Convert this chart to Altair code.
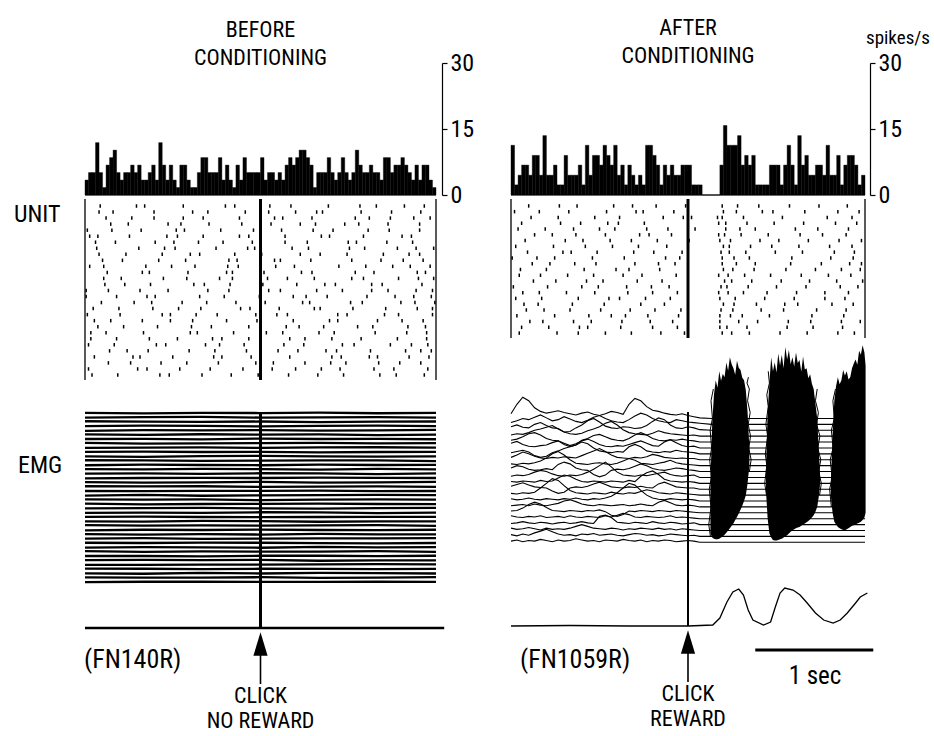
import altair as alt
import pandas as pd

FONT_T = "Roboto Condensed, Liberation Sans Narrow, Liberation Sans, Arial, sans-serif"

# ---------------- data ----------------
bin_width = 0.03  # s
bin_starts = [round(-1.5 + bin_width * i, 3) for i in range(100)]

# spikes/s, before conditioning
hist_before = [3.4, 5.1, 5.1, 11.9, 5.1, 1.7, 6.8, 8.5, 10.2, 5.1,
               3.4, 5.1, 5.1, 6.8, 5.1, 6.8, 3.4, 3.4, 5.1, 6.8,
               3.4, 11.9, 6.8, 3.4, 6.8, 3.4, 1.7, 6.8, 6.8, 3.4,
               1.7, 1.7, 5.1, 8.5, 8.5, 5.1, 5.1, 5.1, 8.5, 3.4,
               6.8, 3.4, 1.7, 6.8, 3.4, 8.5, 5.1, 5.1, 5.1, 5.1,
               8.5, 3.4, 5.1, 5.1, 3.4, 5.1, 3.4, 6.8, 8.5, 6.8,
               8.5, 10.2, 10.2, 8.5, 6.8, 1.7, 5.1, 5.1, 5.1, 8.5,
               5.1, 3.4, 5.1, 8.5, 5.1, 3.4, 5.1, 10.2, 6.8, 5.1,
               5.1, 6.8, 5.1, 5.1, 3.4, 8.5, 8.5, 5.1, 6.8, 6.8,
               8.5, 6.8, 5.1, 3.4, 6.8, 3.4, 6.8, 6.8, 3.4, 1.7]

# spikes/s, after conditioning
hist_after = [11.3, 2.3, 4.5, 6.8, 6.8, 4.5, 9.0, 9.0, 4.5, 13.5,
              4.5, 4.5, 6.8, 2.3, 2.3, 9.0, 4.5, 4.5, 4.5, 6.8,
              2.3, 11.3, 4.5, 9.0, 9.0, 6.8, 11.3, 9.0, 6.8, 11.3,
              4.5, 6.8, 2.3, 6.8, 4.5, 2.3, 4.5, 2.3, 11.3, 11.3,
              9.0, 6.8, 2.3, 6.8, 4.5, 6.8, 4.5, 4.5, 6.8, 6.8,
              6.8, 2.3, 2.3, 2.3, 0, 0, 0, 0, 0, 6.8,
              15.8, 11.3, 11.3, 11.3, 13.5, 6.8, 9.0, 6.8, 9.0, 2.3,
              2.3, 2.3, 2.3, 6.8, 6.8, 6.8, 2.3, 6.8, 11.3, 6.8,
              2.3, 13.5, 6.8, 9.0, 4.5, 4.5, 6.8, 6.8, 4.5, 11.3,
              4.5, 4.5, 9.0, 2.3, 6.8, 9.0, 9.0, 6.8, 2.3, 4.5]

hist_ticks = [0, 15, 30]

# spike times (centiseconds from click), one string per trial (top to bottom)
raster_before = [
    "-137 -106 -99 -66 -30 -22 8 26 58 85 99 123 140",
    "-138 -126 -91 -58 -45 -13 7 30 48 53 86 112 137",
    "-132 -110 -91 -66 -49 -18 12 19 44 81 93 111 131 145",
    "-128 -113 -79 -68 -44 -16 9 34 47 72 84 109 136",
    "-148 -127 -102 -72 -65 -34 -6 18 45 62 92 110 136",
    "-146 -139 -112 -80 -71 -49 -18 -10 21 52 59 88 121 129",
    "-141 -124 -90 -74 -53 -32 -7 21 40 75 82 108 130",
    "-140 -104 -82 -73 -38 -11 -5 27 41 76 89 117 133 148",
    "-138 -115 -84 -60 -52 -22 1 34 51 74 105 127 136",
    "-135 -118 -87 -64 -27 -20 12 17 43 78 103 122 139",
    "-146 -134 -98 -76 -56 -28 -19 13 29 67 90 113 128 145",
    "-131 -101 -95 -62 -29 -24 3 35 44 81 97 134 141",
    "-134 -119 -83 -63 -35 -24 6 23 46 78 88 118 135 148",
    "-133 -116 -94 -57 -48 -26 2 31 55 64 95 104 138",
    "-149 -130 -103 -79 -45 -27 7 17 48 70 95 109 133 147",
    "-149 -123 -97 -90 -52 -31 -1 28 39 57 91 115 131 146",
    "-136 -108 -93 -67 -46 -21 4 36 42 77 87 120 132 149",
    "-143 -121 -92 -70 -51 -17 -9 16 46 51 79 107 134 147",
    "-148 -120 -84 -77 -55 -37 -4 14 23 66 74 106 118 147",
    "-142 -128 -101 -77 -58 -29 -3 28 59 66 100 121 139",
    "-139 -117 -88 -59 -42 -10 22 33 54 83 96 126 141",
    "-145 -132 -100 -60 -54 -23 5 19 50 63 98 125 142",
    "-145 -123 -95 -71 -41 -33 -10 25 38 61 86 117 142",
    "-147 -125 -89 -81 -47 -35 -14 20 37 70 80 111 129 143",
    "-129 -114 -96 -61 -39 -12 15 32 56 65 94 124 137 146",
    "-142 -109 -103 -75 -40 -33 -8 25 61 69 93 100 127 144",
    "-130 -111 -85 -63 -36 -4 11 38 60 73 101 119 137",
    "-147 -105 -97 -69 -43 -15 10 30 52 68 97 114 143",
    "-144 -122 -86 -78 -50 -25 -2 24 49 71 102 116 140",
]

raster_after = [
    "-135 -109 -94 -63 -47 -27 -2 29 42 60 86 111 135",
    "-147 -126 -101 -69 -44 -38 -12 30 41 63 72 99 127 145",
    "-133 -110 -79 -58 -21 -4 3 25 29 47 80 118 139",
    "-141 -108 -91 -68 -59 -37 26 32 50 73 98 125 143",
    "-144 -121 -97 -75 -62 -35 -17 6 32 44 57 91 110 136",
    "-130 -115 -95 -70 -41 -33 -14 26 31 45 68 95 114 134",
    "-138 -104 -89 -66 -48 -26 1 27 36 61 77 102 128 147",
    "-146 -114 -87 -64 -42 -18 30 35 53 71 94 120 139",
    "-136 -106 -99 -77 -46 -29 -5 28 35 49 74 97 124 141",
    "-149 -128 -113 -81 -54 -19 -7 29 39 52 88 121 140",
    "-132 -117 -96 -78 -45 -25 -11 29 41 57 87 113 137 147",
    "-142 -120 -88 -61 -50 -24 30 38 56 83 108 130 146",
    "-143 -125 -102 -80 -55 -39 -10 26 34 48 70 96 119 138",
    "-131 -112 -86 -72 -43 -22 31 37 54 79 103 126 148",
    "-148 -119 -90 -76 -52 -31 -16 28 33 51 75 100 129 144",
    "-140 -126 -103 -79 -51 -30 -9 26 34 47 67 92 116 136",
    "-146 -124 -93 -67 -58 -36 -15 27 40 65 90 116 133",
    "-139 -127 -98 -71 -40 -20 30 39 58 82 93 122 140",
    "-137 -122 -100 -74 -49 -28 -6 28 38 62 81 109 134",
    "-145 -113 -84 -65 -53 -34 -8 27 36 46 69 105 132",
    "-134 -123 -97 -82 -56 -32 -13 27 43 59 85 104 130 146",
    "-141 -118 -92 -85 -57 -30 -9 27 33 50 84 106 131",
    "-143 -111 -93 -70 -48 -23 -3 29 37 52 78 101 127 141",
]

# EMG before conditioning: deviation of each trial trace (half trace-spacing units)
emg_before_times = [-1.5, -1.0, -0.5, 0.0, 0.5, 1.0, 1.5]
emg_before = [
    "0.1 -0.2 0.1 0.0 0.2 -0.1 0.1", "-0.1 0.1 0.2 -0.1 0.0 0.1 -0.1",
    "0.2 0.0 -0.1 0.1 -0.2 0.0 0.1", "0.0 0.2 0.1 -0.2 0.1 0.2 0.0",
    "-0.2 0.1 0.0 0.1 -0.1 0.0 0.2", "0.1 -0.1 0.2 0.0 0.1 -0.2 0.0",
    "0.0 0.1 -0.2 0.2 0.0 0.1 -0.1", "0.2 -0.1 0.0 0.1 0.2 0.0 0.1",
    "-0.1 0.0 0.1 -0.1 0.1 0.2 0.0", "0.1 0.2 0.0 0.1 -0.2 0.0 0.1",
    "0.0 -0.2 0.1 0.2 0.0 -0.1 0.0", "0.2 0.1 -0.1 0.0 0.1 0.1 -0.2",
    "-0.1 0.2 0.0 -0.1 0.2 0.0 0.1", "0.1 0.0 0.2 0.1 -0.1 0.2 0.0",
    "0.0 0.1 -0.1 0.2 0.1 -0.2 0.1", "-0.2 0.0 0.1 0.0 0.2 0.1 0.0",
    "0.1 -0.1 0.0 0.2 -0.1 0.0 0.2", "0.2 0.1 0.2 -0.1 0.0 0.1 -0.1",
    "0.0 -0.1 0.1 0.1 0.2 -0.1 0.0", "-0.1 0.2 -0.2 0.0 0.1 0.2 0.1",
    "0.1 0.0 0.1 -0.2 0.0 0.1 0.0", "0.2 -0.2 0.0 0.1 0.2 0.0 -0.1",
    "0.0 0.1 0.2 0.0 -0.1 0.1 0.2", "-0.1 0.0 -0.1 0.2 0.1 -0.2 0.0",
    "0.1 0.2 0.0 -0.1 0.0 0.1 0.1", "0.0 -0.1 0.2 0.1 -0.2 0.0 0.0",
    "0.2 0.0 0.1 0.0 0.1 0.2 -0.1", "-0.2 0.1 0.0 0.2 0.0 -0.1 0.1",
    "0.1 -0.1 0.1 -0.1 0.2 0.0 0.0", "0.0 0.2 -0.1 0.0 0.1 0.1 0.2",
    "0.1 0.0 0.2 0.1 -0.1 -0.2 0.0", "-0.1 0.1 0.0 -0.2 0.2 0.0 0.1",
    "0.2 -0.1 0.1 0.0 0.0 0.2 -0.1", "0.0 0.0 -0.2 0.1 0.1 -0.1 0.1",
    "0.1 0.2 0.1 0.2 -0.2 0.0 0.0", "-0.1 -0.1 0.0 0.0 0.1 0.2 0.1",
    "0.2 0.1 -0.1 0.1 0.0 -0.1 0.0", "0.0 -0.2 0.2 -0.1 0.2 0.1 -0.1",
    "0.1 0.0 0.0 0.2 -0.1 0.0 0.2", "-0.1 0.1 0.1 0.0 0.0 0.1 0.0",
]

# EMG after conditioning, pre-click part of each trial trace:
# deviation in tenths of the trace spacing, sampled every 50 ms from -1.5 s to +0.1 s
emg_after_times = [-1.5, -1.45, -1.4, -1.35, -1.3, -1.25, -1.2, -1.15, -1.1, -1.05, -1.0,
                   -0.95, -0.9, -0.85, -0.8, -0.75, -0.7, -0.65, -0.6, -0.55, -0.5,
                   -0.45, -0.4, -0.35, -0.3, -0.25, -0.2, -0.15, -0.1, -0.05, 0.0, 0.05, 0.1]
emg_after_tail = [0.2, 1.5]
emg_after = [  # index 0 = bottom trace
    "2 4 1 3 2 5 3 1 4 2 3 6 4 2 3 1 4 3 2 5 3 2 4 1 3 2 4 3 1 2 3 2 0",
    "3 1 4 2 6 9 12 8 4 2 3 1 4 3 5 2 3 4 2 1 3 5 4 2 3 1 2 4 3 2 1 2 0",
    "4 2 3 5 3 1 4 2 3 2 4 7 10 7 4 3 2 4 3 1 3 2 4 3 2 4 2 3 1 3 2 1 0",
    "2 3 5 3 2 4 3 1 3 4 2 3 5 3 2 14 16 12 4 3 2 4 3 2 5 3 2 4 3 1 2 3 0",
    "5 3 2 4 3 5 2 3 4 2 5 3 2 4 3 2 5 3 6 9 7 3 2 4 3 2 3 5 2 3 2 1 0",
    "3 4 8 14 18 15 9 4 3 2 4 3 2 4 3 5 2 -4 -6 -3 3 2 4 3 2 4 3 2 4 3 2 1 0",
    "2 3 4 2 5 3 2 4 6 10 12 9 5 3 2 4 3 2 3 4 2 3 5 3 2 8 11 7 3 2 3 2 0",
    "4 2 3 5 3 2 4 3 2 4 3 5 3 2 4 3 5 8 14 22 30 27 18 10 5 3 2 4 3 2 3 2 0",
    "3 2 4 3 5 12 20 28 25 16 8 4 3 2 4 3 2 5 3 2 4 3 6 9 7 4 3 2 4 3 2 1 0",
    "5 8 11 7 4 3 2 -3 -7 -5 2 4 3 5 9 12 8 4 3 2 4 3 5 3 2 9 12 8 4 3 2 2 0",
    "3 2 4 3 2 5 3 4 9 14 12 7 3 2 4 3 2 4 3 2 5 3 12 18 21 15 7 4 3 2 3 2 0",
    "2 4 3 5 9 12 10 6 3 2 4 3 5 9 14 20 26 18 9 4 3 2 4 3 5 7 9 5 3 2 3 4 0",
    "6 10 8 4 2 3 5 3 12 16 13 6 3 2 -5 -9 -6 2 4 3 5 9 13 10 5 3 2 4 6 5 3 2 0",
    "3 2 4 3 5 8 13 20 24 18 10 4 3 2 4 5 3 2 4 8 12 9 4 3 2 4 6 9 5 3 2 1 0",
    "4 8 13 10 6 3 2 4 3 5 4 3 7 11 15 19 14 8 4 3 2 4 3 5 9 7 4 3 2 3 2 2 0",
    "2 4 6 3 -3 -6 -4 2 5 9 12 15 20 17 10 5 3 2 4 3 12 16 12 5 3 2 4 3 6 4 3 2 0",
    "8 11 6 3 2 4 5 9 12 8 4 7 12 15 11 6 3 2 4 3 6 9 12 8 4 3 10 14 9 4 2 3 0",
    "3 5 9 14 16 12 6 3 2 -4 -8 -5 3 6 11 13 9 5 3 2 6 12 16 12 6 3 2 4 3 5 3 2 0",
    "2 4 3 6 10 12 15 18 12 7 4 3 5 9 12 16 22 25 19 11 6 4 3 2 5 9 6 4 3 2 1 2 0",
    "6 9 5 4 10 13 8 4 3 -3 -2 4 9 16 20 14 7 4 3 6 5 3 4 8 15 21 18 9 4 3 6 4 1",
    "3 6 10 8 12 16 11 6 8 13 9 5 3 7 12 15 10 6 4 3 8 14 19 16 10 6 4 3 8 6 4 3 2",
    "8 24 36 30 18 12 9 11 13 10 8 6 9 11 7 5 8 12 10 7 24 34 30 20 14 12 9 7 6 8 5 3 1",
]

# EMG bursts after the click: outer envelope (top / bottom) of the superimposed traces
burst1_t = [0.19, 0.205, 0.22, 0.235, 0.25, 0.265, 0.28, 0.295, 0.31, 0.325, 0.34, 0.355,
            0.37, 0.385, 0.40, 0.415, 0.43, 0.445, 0.46, 0.475, 0.49, 0.505, 0.52]
burst1_top = [10, 20, 25, 27.5, 26.2, 29, 27.4, 28.6, 28, 30.5, 29.1, 31.4,
              30.2, 29.5, 28.4, 30.8, 29.6, 29.2, 27.9, 27.5, 25.8, 22, 16]
burst1_bot = [1.5, 0.8, 0.6, 0.5, 0.5, 0.6, 0.8, 1.0, 1.3, 1.6, 2.0, 2.4,
              2.8, 3.2, 3.8, 4.3, 4.9, 5.5, 6.2, 7.0, 8.0, 10, 13]
burst2_t = [0.66, 0.675, 0.69, 0.705, 0.72, 0.735, 0.75, 0.765, 0.78, 0.795, 0.81, 0.825,
            0.84, 0.855, 0.87, 0.885, 0.90, 0.915, 0.93, 0.945, 0.96, 0.975, 0.99, 1.005,
            1.02, 1.035, 1.05, 1.065, 1.08, 1.095, 1.11, 1.12]
burst2_top = [12, 22, 27, 31.4, 29, 30.5, 28.8, 32, 30, 31.8, 29.5, 33.1,
              31, 32.6, 30.2, 31.4, 29.8, 32.2, 30.4, 30.9, 28.9, 31.5, 29.3, 29.5,
              27.8, 28.5, 26.9, 26, 23.5, 21, 15, 11]
burst2_bot = [9, 4, 1.5, 0.8, 0.4, 0.3, 0.3, 0.4, 0.5, 0.6, 0.8, 1.0,
              1.2, 1.5, 1.8, 2.0, 2.2, 2.4, 2.5, 2.6, 2.8, 3.0, 3.2, 3.4,
              3.6, 3.9, 4.2, 4.6, 5.2, 6.0, 8.0, 10.0]
burst3_t = [1.21, 1.225, 1.24, 1.255, 1.27, 1.285, 1.30, 1.315, 1.33, 1.345, 1.36,
            1.375, 1.39, 1.405, 1.42, 1.435, 1.45, 1.465, 1.48, 1.495, 1.505]
burst3_top = [10, 18, 24, 26.5, 28, 26.8, 27.5, 29.2, 28.3, 29, 27.6,
              28, 29.5, 30.3, 31, 30.1, 32.5, 31.8, 33.4, 32.2, 30]
burst3_bot = [8, 5, 3.5, 3, 2.6, 2.4, 2.2, 2.1, 2.0, 2.2, 2.4,
              2.6, 2.8, 2.9, 3.0, 3.2, 3.3, 3.5, 3.8, 4.2, 5]

# ragged trace fringes along the burst edges (t in s, level in trace units)
fringe_t = {
    "1L": [0.19, 0.176, 0.195, 0.18, 0.198, 0.184, 0.2, 0.188, 0.207, 0.195, 0.215],
    "1R": [0.52, 0.535, 0.515, 0.53, 0.51, 0.527, 0.505, 0.52, 0.5, 0.512],
    "2L": [0.665, 0.65, 0.668, 0.655, 0.675, 0.66, 0.68, 0.668, 0.69, 0.68],
    "2R": [1.115, 1.13, 1.108, 1.125, 1.1, 1.118, 1.09, 1.105, 1.08, 1.095],
    "3L": [1.215, 1.2, 1.222, 1.205, 1.23, 1.215, 1.24, 1.228, 1.25],
}
fringe_v = {
    "1L": [1, 3, 6, 9, 11, 14, 16, 19, 21, 24, 26],
    "1R": [12, 14, 16, 18, 20, 22, 24, 26, 27, 28],
    "2L": [8, 10, 13, 15, 18, 20, 23, 25, 27, 29],
    "2R": [8, 10, 12, 14, 16, 18, 20, 22, 24, 26],
    "3L": [6, 9, 11, 14, 16, 19, 21, 24, 26],
}

# averaged (rectified) EMG after conditioning
avg_after_t = [-1.5, -1.0, -0.5, 0.0, 0.21, 0.27, 0.33, 0.38, 0.43, 0.47, 0.51, 0.55,
               0.64, 0.70, 0.74, 0.78, 0.82, 0.89, 0.95, 1.01, 1.08, 1.15, 1.23,
               1.29, 1.35, 1.42, 1.46, 1.52]
avg_after = [0, 0.5, 0, 0, 1, 8, 24, 34, 37, 31, 16, 6,
             1, 4, 19, 33, 38, 36, 31, 23, 13, 6, 3,
             6, 13, 23, 29, 33]
avg_before_t = [-1.5, 1.57]
avg_before = [0, 0]

# ---------------- tables ----------------
hist_L = pd.DataFrame({"t0": bin_starts, "t1": [b + bin_width for b in bin_starts],
                       "rate": hist_before, "base": 0})
hist_R = pd.DataFrame({"t0": bin_starts, "t1": [b + bin_width for b in bin_starts],
                       "rate": hist_after, "base": 0})


def raster_df(rows):
    recs = []
    for i, r in enumerate(rows):
        for v in r.split():
            recs.append({"trial": i + 1, "t": int(v) / 100})
    return pd.DataFrame(recs)


rast_L = raster_df(raster_before)
rast_R = raster_df(raster_after)

recs = []
for i, r in enumerate(emg_before):
    trace = 39 - i
    for tt, v in zip(emg_before_times, r.split()):
        recs.append({"trace": trace, "t": tt, "v": 2 * trace + float(v)})
emg_L = pd.DataFrame(recs)

recs = []
for i, r in enumerate(emg_after):
    for tt, v in zip(emg_after_times, r.split()):
        recs.append({"trace": i, "t": tt, "v": i + int(v) / 10})
    for tt in emg_after_tail:
        recs.append({"trace": i, "t": tt, "v": float(i)})
emg_R = pd.DataFrame(recs)

bursts = pd.concat([
    pd.DataFrame({"burst": 1, "t": burst1_t, "top": burst1_top, "bot": burst1_bot}),
    pd.DataFrame({"burst": 2, "t": burst2_t, "top": burst2_top, "bot": burst2_bot}),
    pd.DataFrame({"burst": 3, "t": burst3_t, "top": burst3_top, "bot": burst3_bot}),
])
fringes = pd.concat([
    pd.DataFrame({"edge": k, "t": fringe_t[k], "v": fringe_v[k], "i": range(len(fringe_t[k]))})
    for k in fringe_t
])
avg_R = pd.DataFrame({"t": avg_after_t, "v": avg_after})
avg_L = pd.DataFrame({"t": avg_before_t, "v": avg_before})

edges = pd.DataFrame({"t": [-1.5, 0.0, 1.5], "w": [1.3, 3.0, 1.3]})
click = pd.DataFrame({"t": [0.0]})
scalebar = pd.DataFrame({"t": [0.57], "t2": [1.57]})
one = pd.DataFrame({"a": [0]})

# ---------------- layout (pixel ranges of each panel) ----------------
X_L = [85, 436]
X_R = [511, 865]
HIST_Y = [195, 63]
RAST_L_Y = [203, 378]
RAST_R_Y = [203, 336]
EMG_L_Y = [586.3, 408.7]
EMG_R_Y = [560, 330]
AVG_R_Y = [626, 576]
CLICK_L = 260.5
CLICK_R = 688


def xs(p):
    return alt.Scale(domain=[-1.5, 1.5], range=X_L if p == "L" else X_R, nice=False, zero=False)


def X(field, p):
    return alt.X(field, type="quantitative", scale=xs(p), axis=None)


def hist_layer(df, p, offset):
    return alt.Chart(df).mark_bar(color="black", stroke="black", strokeWidth=0.4, opacity=1).encode(
        x=X("t0", p), x2="t1",
        y=alt.Y("rate:Q", scale=alt.Scale(domain=[0, 30], range=HIST_Y, nice=False, zero=False),
                axis=alt.Axis(orient="right", offset=offset, values=hist_ticks, title=None, grid=False,
                              tickSize=5, tickWidth=1.2, domainWidth=1.2, domainColor="black",
                              tickColor="black", labelColor="black", labelFontSize=24,
                              labelFont=FONT_T, labelPadding=3)),
        y2="base",
    )


def hist_base(p):
    return alt.Chart(pd.DataFrame({"t": [-1.5], "t2": [1.5]})).mark_rule(color="black", strokeWidth=1.2).encode(
        x=X("t", p), x2="t2", y=alt.value(HIST_Y[0]))


def raster_layer(df, p, yr, n):
    return alt.Chart(df).mark_tick(orient="vertical", size=3.5, thickness=1.5, color="black", opacity=1).encode(
        x=X("t", p),
        y=alt.Y("trial:Q", scale=alt.Scale(domain=[0.5, n + 0.5], range=yr, nice=False, zero=False), axis=None),
    )


def raster_edges(p, yr):
    return alt.Chart(edges).mark_rule(color="black").encode(
        x=X("t", p), y=alt.value(yr[0] - 4), y2=alt.value(yr[1] + 2),
        strokeWidth=alt.StrokeWidth("w:Q", scale=None))


def vline(p, y0, y1, w):
    return alt.Chart(click).mark_rule(color="black", strokeWidth=w).encode(
        x=X("t", p), y=alt.value(y0), y2=alt.value(y1))


def arrow(p, ytip):
    head = alt.Chart(click).mark_point(shape="M0,-1L0.6,1L-0.6,1Z", filled=True, size=560,
                                       color="black", opacity=1).encode(
        x=X("t", p), y=alt.value(ytip + 12))
    shaft = alt.Chart(click).mark_rule(color="black", strokeWidth=1.6).encode(
        x=X("t", p), y=alt.value(ytip + 20), y2=alt.value(ytip + 52))
    return [head, shaft]


def txt(lines, x, y, size=21, align="center", lh=None, font=FONT_T):
    kw = dict(text=lines, fontSize=size, font=font, align=align, baseline="middle", color="black")
    if lh:
        kw["lineHeight"] = lh
    return alt.Chart(one).mark_text(**kw).encode(x=alt.value(x), y=alt.value(y))


layers = []
# histograms
layers += [hist_layer(hist_L, "L", X_L[1] + 6 - 934), hist_base("L"),
           hist_layer(hist_R, "R", X_R[1] + 5 - 934), hist_base("R")]
# rasters
layers += [raster_layer(rast_L, "L", RAST_L_Y, len(raster_before)), raster_edges("L", RAST_L_Y),
           raster_layer(rast_R, "R", RAST_R_Y, len(raster_after)), raster_edges("R", RAST_R_Y)]
# EMG before
layers.append(alt.Chart(emg_L).mark_line(color="black", strokeWidth=2.3).encode(
    x=X("t", "L"),
    y=alt.Y("v:Q", scale=alt.Scale(domain=[-2, 80], range=EMG_L_Y, nice=False, zero=False), axis=None),
    detail="trace:N"))
layers.append(vline("L", 412, 628, 3))
layers.append(alt.Chart(avg_L).mark_line(color="black", strokeWidth=2.4).encode(
    x=X("t", "L"),
    y=alt.Y("v:Q", scale=alt.Scale(domain=[0, 50], range=[628, 578], nice=False, zero=False), axis=None)))
# EMG after
emg_r_scale = alt.Scale(domain=[-3, 36], range=EMG_R_Y, nice=False, zero=False)
layers.append(alt.Chart(emg_R).mark_line(color="black", strokeWidth=1.1).encode(
    x=X("t", "R"), y=alt.Y("v:Q", scale=emg_r_scale, axis=None), detail="trace:N"))
layers.append(alt.Chart(bursts).mark_area(color="black", opacity=1).encode(
    x=X("t", "R"), y=alt.Y("top:Q", scale=emg_r_scale, axis=None), y2="bot", detail="burst:N"))
layers.append(alt.Chart(fringes).mark_line(color="black", strokeWidth=1.0).encode(
    x=X("t", "R"), y=alt.Y("v:Q", scale=emg_r_scale, axis=None), detail="edge:N", order="i:Q"))
layers.append(vline("R", 412, 626, 2))
layers.append(alt.Chart(avg_R).mark_line(color="black", strokeWidth=1.3).encode(
    x=X("t", "R"),
    y=alt.Y("v:Q", scale=alt.Scale(domain=[0, 50], range=AVG_R_Y, nice=False, zero=False), axis=None)))
# arrows and scale bar
layers += arrow("L", 632) + arrow("R", 630)
layers.append(alt.Chart(scalebar).mark_rule(color="black", strokeWidth=3).encode(
    x=X("t", "R"), x2="t2", y=alt.value(650)))

# texts
layers += [
    txt(["BEFORE", "CONDITIONING"], CLICK_L, 30, 22, lh=28),
    txt(["AFTER", "CONDITIONING"], CLICK_R, 28, 22, lh=28),
    txt("spikes/s", 898, 38, 19),
    txt("UNIT", 14, 215, 24, align="left"),
    txt("EMG", 18, 466, 24, align="left"),
    txt("(FN140R)", 84, 660, 26, align="left"),
    txt("(FN1059R)", 520, 660, 26, align="left"),
    txt(["CLICK", "NO REWARD"], CLICK_L, 696, 22, lh=25),
    txt(["CLICK", "REWARD"], CLICK_R, 694, 22, lh=25),
    txt("1 sec", 815, 676, 25),
]

chart = alt.layer(*layers).resolve_scale(x="independent", y="independent").properties(
    width=934, height=736, padding=0, autosize=alt.AutoSizeParams(type="none"),
    background="white",
).configure_view(stroke=None)

chart.save("out.html", embed_options={"renderer": "svg", "actions": False})
